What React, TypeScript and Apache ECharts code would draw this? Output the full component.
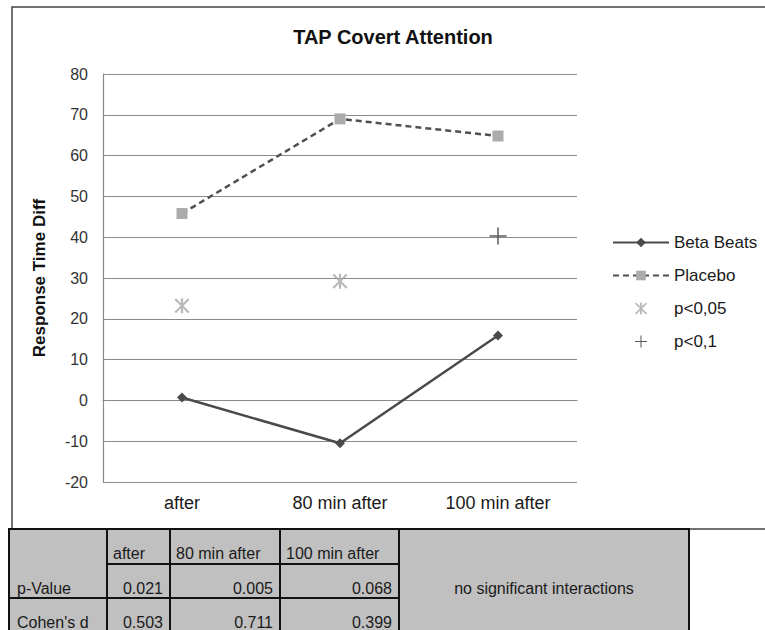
import React, { useEffect, useRef } from "react";
import * as echarts from "echarts";

// ---- data ----
const categories = ["after", "80 min after", "100 min after"];
const betaBeats = [0.7, -10.5, 15.9];
const placebo = [45.8, 69, 64.8];
const pBelow005 = [23.2, 29.2, null];
const pBelow01 = [null, null, 40.3];
const yMin = -20;
const yMax = 80;
const yStep = 10;

const tableHeader = ["", "after", "80 min after", "100 min after"];
const tableRowLabels = ["p-Value", "Cohen's d"];
const pValues = ["0.021", "0.005", "0.068"];
const cohensD = ["0.503", "0.711", "0.399"];
const tableNote = "no significant interactions";

// ---- layout ----
const W = 765;
const H = 630;
const FONT = "'Liberation Sans', Arial, sans-serif";
const colX = [9, 107, 170, 280, 399, 689];
const rowY = [529, 564, 598, 632];

const STAR =
  "path://M8.5,0 L11.5,0 L11.5,20 L8.5,20 Z M0,2 L2,0 L20,18 L18,20 Z M18,0 L20,2 L2,20 L0,18 Z";
const PLUS =
  "path://M7.3,0 L8.7,0 L8.7,16 L7.3,16 Z M0,7.3 L16,7.3 L16,8.7 L0,8.7 Z";

function buildTable(): any[] {
  const els: any[] = [];
  els.push({
    type: "rect",
    shape: { x: colX[0], y: rowY[0], width: colX[5] - colX[0], height: 140 },
    style: { fill: "#c0c0c0", stroke: "#111", lineWidth: 2 },
    z: 10,
  });
  const line = (x1: number, y1: number, x2: number, y2: number) =>
    els.push({
      type: "line",
      shape: { x1, y1, x2, y2 },
      style: { stroke: "#111", lineWidth: 2 },
      z: 11,
    });
  for (let i = 1; i <= 4; i++) line(colX[i], rowY[0], colX[i], H + 10);
  line(colX[1], rowY[1], colX[4], rowY[1]);
  line(colX[0], rowY[2], colX[4], rowY[2]);

  const txt = (text: string, x: number, y: number, align: string) =>
    els.push({
      type: "text",
      x,
      y,
      z: 12,
      style: {
        text,
        font: `16px ${FONT}`,
        fill: "#1a1a1a",
        textAlign: align,
        textVerticalAlign: "middle",
      },
    });
  for (let c = 1; c < tableHeader.length; c++) {
    txt(tableHeader[c], colX[c] + 6, rowY[0] + 24, "left");
  }
  txt(tableRowLabels[0], colX[0] + 8, rowY[1] + 24, "left");
  txt(tableRowLabels[1], colX[0] + 8, rowY[2] + 24, "left");
  for (let c = 0; c < 3; c++) {
    txt(pValues[c], colX[c + 2] - 7, rowY[1] + 24, "right");
    txt(cohensD[c], colX[c + 2] - 7, rowY[2] + 24, "right");
  }
  txt(tableNote, (colX[4] + colX[5]) / 2, rowY[1] + 24, "center");
  return els;
}

export default function App() {
  const ref = useRef<HTMLDivElement>(null);
  useEffect(() => {
    document.body.style.margin = "0";
    const chart = echarts.init(ref.current!, null, { renderer: "svg" });
    const option: any = {
      animation: false,
      backgroundColor: "#ffffff",
      textStyle: { fontFamily: FONT },
      title: {
        text: "TAP Covert Attention",
        left: 388,
        top: 22,
        textAlign: "center",
        textStyle: { fontSize: 20, fontWeight: "bold", color: "#111", fontFamily: FONT },
      },
      legend: {
        orient: "vertical",
        left: 612,
        top: 234,
        padding: 0,
        itemWidth: 56,
        itemHeight: 12,
        itemGap: 16,
        textStyle: { fontSize: 17, color: "#1a1a1a", fontFamily: FONT },
        data: ["Beta Beats", "Placebo", "p<0,05", "p<0,1"],
      },
      grid: { left: 103, top: 74, right: W - 577, bottom: H - 482 },
      xAxis: {
        type: "category",
        data: categories,
        boundaryGap: true,
        axisLine: { lineStyle: { color: "#8a8a8a", width: 1.2 } },
        axisTick: { show: false },
        axisLabel: { fontSize: 18, color: "#1a1a1a", margin: 12, fontFamily: FONT },
      },
      yAxis: {
        type: "value",
        min: yMin,
        max: yMax,
        interval: yStep,
        name: "Response Time Diff",
        nameLocation: "middle",
        nameRotate: 90,
        nameGap: 55,
        nameTextStyle: { fontSize: 17, fontWeight: "bold", color: "#111", fontFamily: FONT },
        axisLine: { show: true, lineStyle: { color: "#8a8a8a", width: 1.2 } },
        axisTick: { show: false },
        axisLabel: { fontSize: 16, color: "#333", margin: 15, fontFamily: FONT },
        splitLine: { lineStyle: { color: "#8a8a8a", width: 1.2 } },
      },
      series: [
        {
          name: "Beta Beats",
          type: "line",
          data: betaBeats,
          symbol: "diamond",
          symbolSize: 10,
          itemStyle: { color: "#4a4a4a" },
          lineStyle: { color: "#4a4a4a", width: 2.5 },
          z: 5,
        },
        {
          name: "Placebo",
          type: "line",
          data: placebo,
          symbol: "rect",
          symbolSize: 11,
          itemStyle: { color: "#ababab" },
          lineStyle: { color: "#505050", width: 2.5, type: [6, 4] },
          z: 4,
        },
        {
          name: "p<0,05",
          type: "scatter",
          data: pBelow005,
          symbol: STAR,
          symbolSize: 15,
          itemStyle: { color: "#a8a8a8" },
          z: 6,
        },
        {
          name: "p<0,1",
          type: "scatter",
          data: pBelow01,
          symbol: PLUS,
          symbolSize: 17,
          itemStyle: { color: "#333333" },
          z: 6,
        },
      ],
      graphic: [
        {
          type: "rect",
          shape: { x: 12, y: 7, width: 800, height: 522 },
          style: { fill: "none", stroke: "#444", lineWidth: 1.5 },
          z: 1,
          silent: true,
        },
        ...buildTable(),
      ],
    };
    chart.setOption(option);
    return () => chart.dispose();
  }, []);
  return (
    <div
      ref={ref}
      style={{ position: "absolute", left: 0, top: 0, width: W, height: H }}
    />
  );
}
